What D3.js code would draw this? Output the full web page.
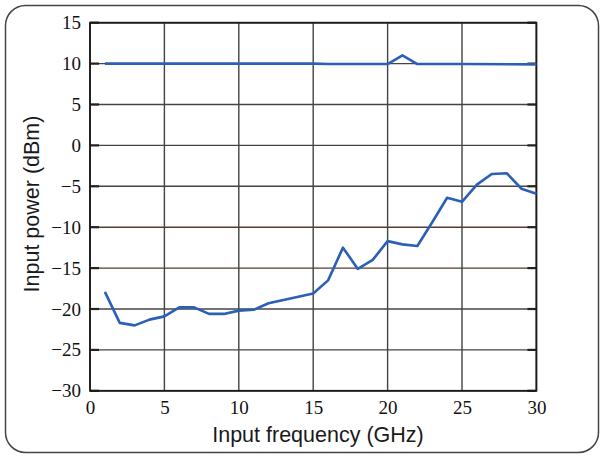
<!DOCTYPE html>
<html>
<head>
<meta charset="utf-8">
<script src="https://cdn.jsdelivr.net/npm/d3@7"></script>
<style>
  body { margin: 0; background: #fff; }
  .tick text { font-family: "Liberation Serif", "Times New Roman", serif; font-size: 19px; fill: #111; }
  .title { font-family: "Liberation Sans", Arial, sans-serif; font-size: 21.5px; fill: #1a1a1a; }
</style>
</head>
<body>
<div id="chart"></div>
<script>
// frequencies (GHz) for the lower curve
const freqLow = [1,2,3,4,5,6,7,8,9,10,11,12,13,14,15,16,17,18,19,20,21,22,23,24,25,26,27,28,29,30]
const powerLow = [-17.9,-21.7,-22.0,-21.3,-20.9,-19.8,-19.8,-20.6,-20.6,-20.2,-20.1,-19.3,-18.9,-18.5,-18.1,-16.5,-12.5,-15.1,-14.0,-11.7,-12.1,-12.3,-9.4,-6.4,-6.9,-4.8,-3.5,-3.4,-5.3,-5.9]

// upper curve
const freqHigh = [1,5,10,15,16,20,21,22,25,30]
const powerHigh = [10,10,10,10,9.95,9.95,11.0,9.95,9.95,9.9]

const xTicks = [0,5,10,15,20,25,30]
const yTicks = [15,10,5,0,-5,-10,-15,-20,-25,-30]

const W = 601, H = 457
const margin = {top:22.7, right:65, bottom:66, left:90}
const width = 536.4 - margin.left
const height = 390.8 - margin.top

const root = d3.select("#chart").append("svg")
    .attr("width", W)
    .attr("height", H)

// rounded frame
root.append("rect")
    .attr("x", 5.5).attr("y", 5.5)
    .attr("width", W - 8).attr("height", H - 10)
    .attr("rx", 20).attr("ry", 20)
    .style("fill", "none")
    .style("stroke", "#444")
    .style("stroke-width", 1.5)

const svg = root.append("g")
    .attr("transform", "translate(" + margin.left + "," + margin.top + ")")

const x = d3.scaleLinear().domain([0,30]).range([0,width])
const y = d3.scaleLinear().domain([-30,15]).range([height,0])

// grid
svg.selectAll(".hgrid")
    .data(yTicks)
    .enter().append("line")
    .attr("x1", 0).attr("x2", width)
    .attr("y1", d => y(d)).attr("y2", d => y(d))
    .style("stroke", d => (d == -10 || d == -15) ? "#5a3a30" : "#444444")
    .style("stroke-width", 1.4)

svg.selectAll(".vgrid")
    .data(xTicks)
    .enter().append("line")
    .attr("x1", d => x(d)).attr("x2", d => x(d))
    .attr("y1", 0).attr("y2", height)
    .style("stroke", "#3c4444")
    .style("stroke-width", 1.4)

// inner tick marks on left/right
svg.selectAll(".ltick")
    .data(yTicks)
    .enter().append("line")
    .attr("x1", 0).attr("x2", 9)
    .attr("y1", d => y(d)).attr("y2", d => y(d))
    .style("stroke", "#222").style("stroke-width", 2.2)
svg.selectAll(".rtick")
    .data(yTicks)
    .enter().append("line")
    .attr("x1", width - 9).attr("x2", width)
    .attr("y1", d => y(d)).attr("y2", d => y(d))
    .style("stroke", "#222").style("stroke-width", 2.2)

// frame of plot
svg.append("rect")
    .attr("width", width).attr("height", height)
    .style("fill", "none")
    .style("stroke", "#1a1a1a")
    .style("stroke-width", 1.8)

const xAxis = d3.axisBottom(x).tickValues(xTicks).tickSize(0).tickPadding(10)
const yAxis = d3.axisLeft(y).tickValues(yTicks).tickSize(0).tickPadding(9)
    .tickFormat(d => d < 0 ? "\u2212" + Math.abs(d) : d)

svg.append("g")
    .attr("transform", "translate(0," + height + ")")
    .call(xAxis)
    .call(g => g.select(".domain").remove())

svg.append("g")
    .call(yAxis)
    .call(g => g.select(".domain").remove())

const line = d3.line()
    .x(d => x(d[0]))
    .y(d => y(d[1]))

svg.append("path")
    .datum(d3.zip(freqLow, powerLow))
    .attr("d", line)
    .style("fill", "none")
    .style("stroke", "#2b5fb8")
    .style("stroke-width", 2.6)
    .style("stroke-linejoin", "round")

svg.append("path")
    .datum(d3.zip(freqHigh, powerHigh))
    .attr("d", line)
    .style("fill", "none")
    .style("stroke", "#2b5fb8")
    .style("stroke-width", 2.6)
    .style("stroke-linejoin", "round")

// axis titles
root.append("text")
    .attr("class", "title")
    .attr("x", 318).attr("y", 442)
    .attr("text-anchor", "middle")
    .text("Input frequency (GHz)")

root.append("text")
    .attr("class", "title")
    .attr("transform", "translate(39,204) rotate(-90)")
    .attr("text-anchor", "middle")
    .text("Input power (dBm)")
</script>
</body>
</html>
